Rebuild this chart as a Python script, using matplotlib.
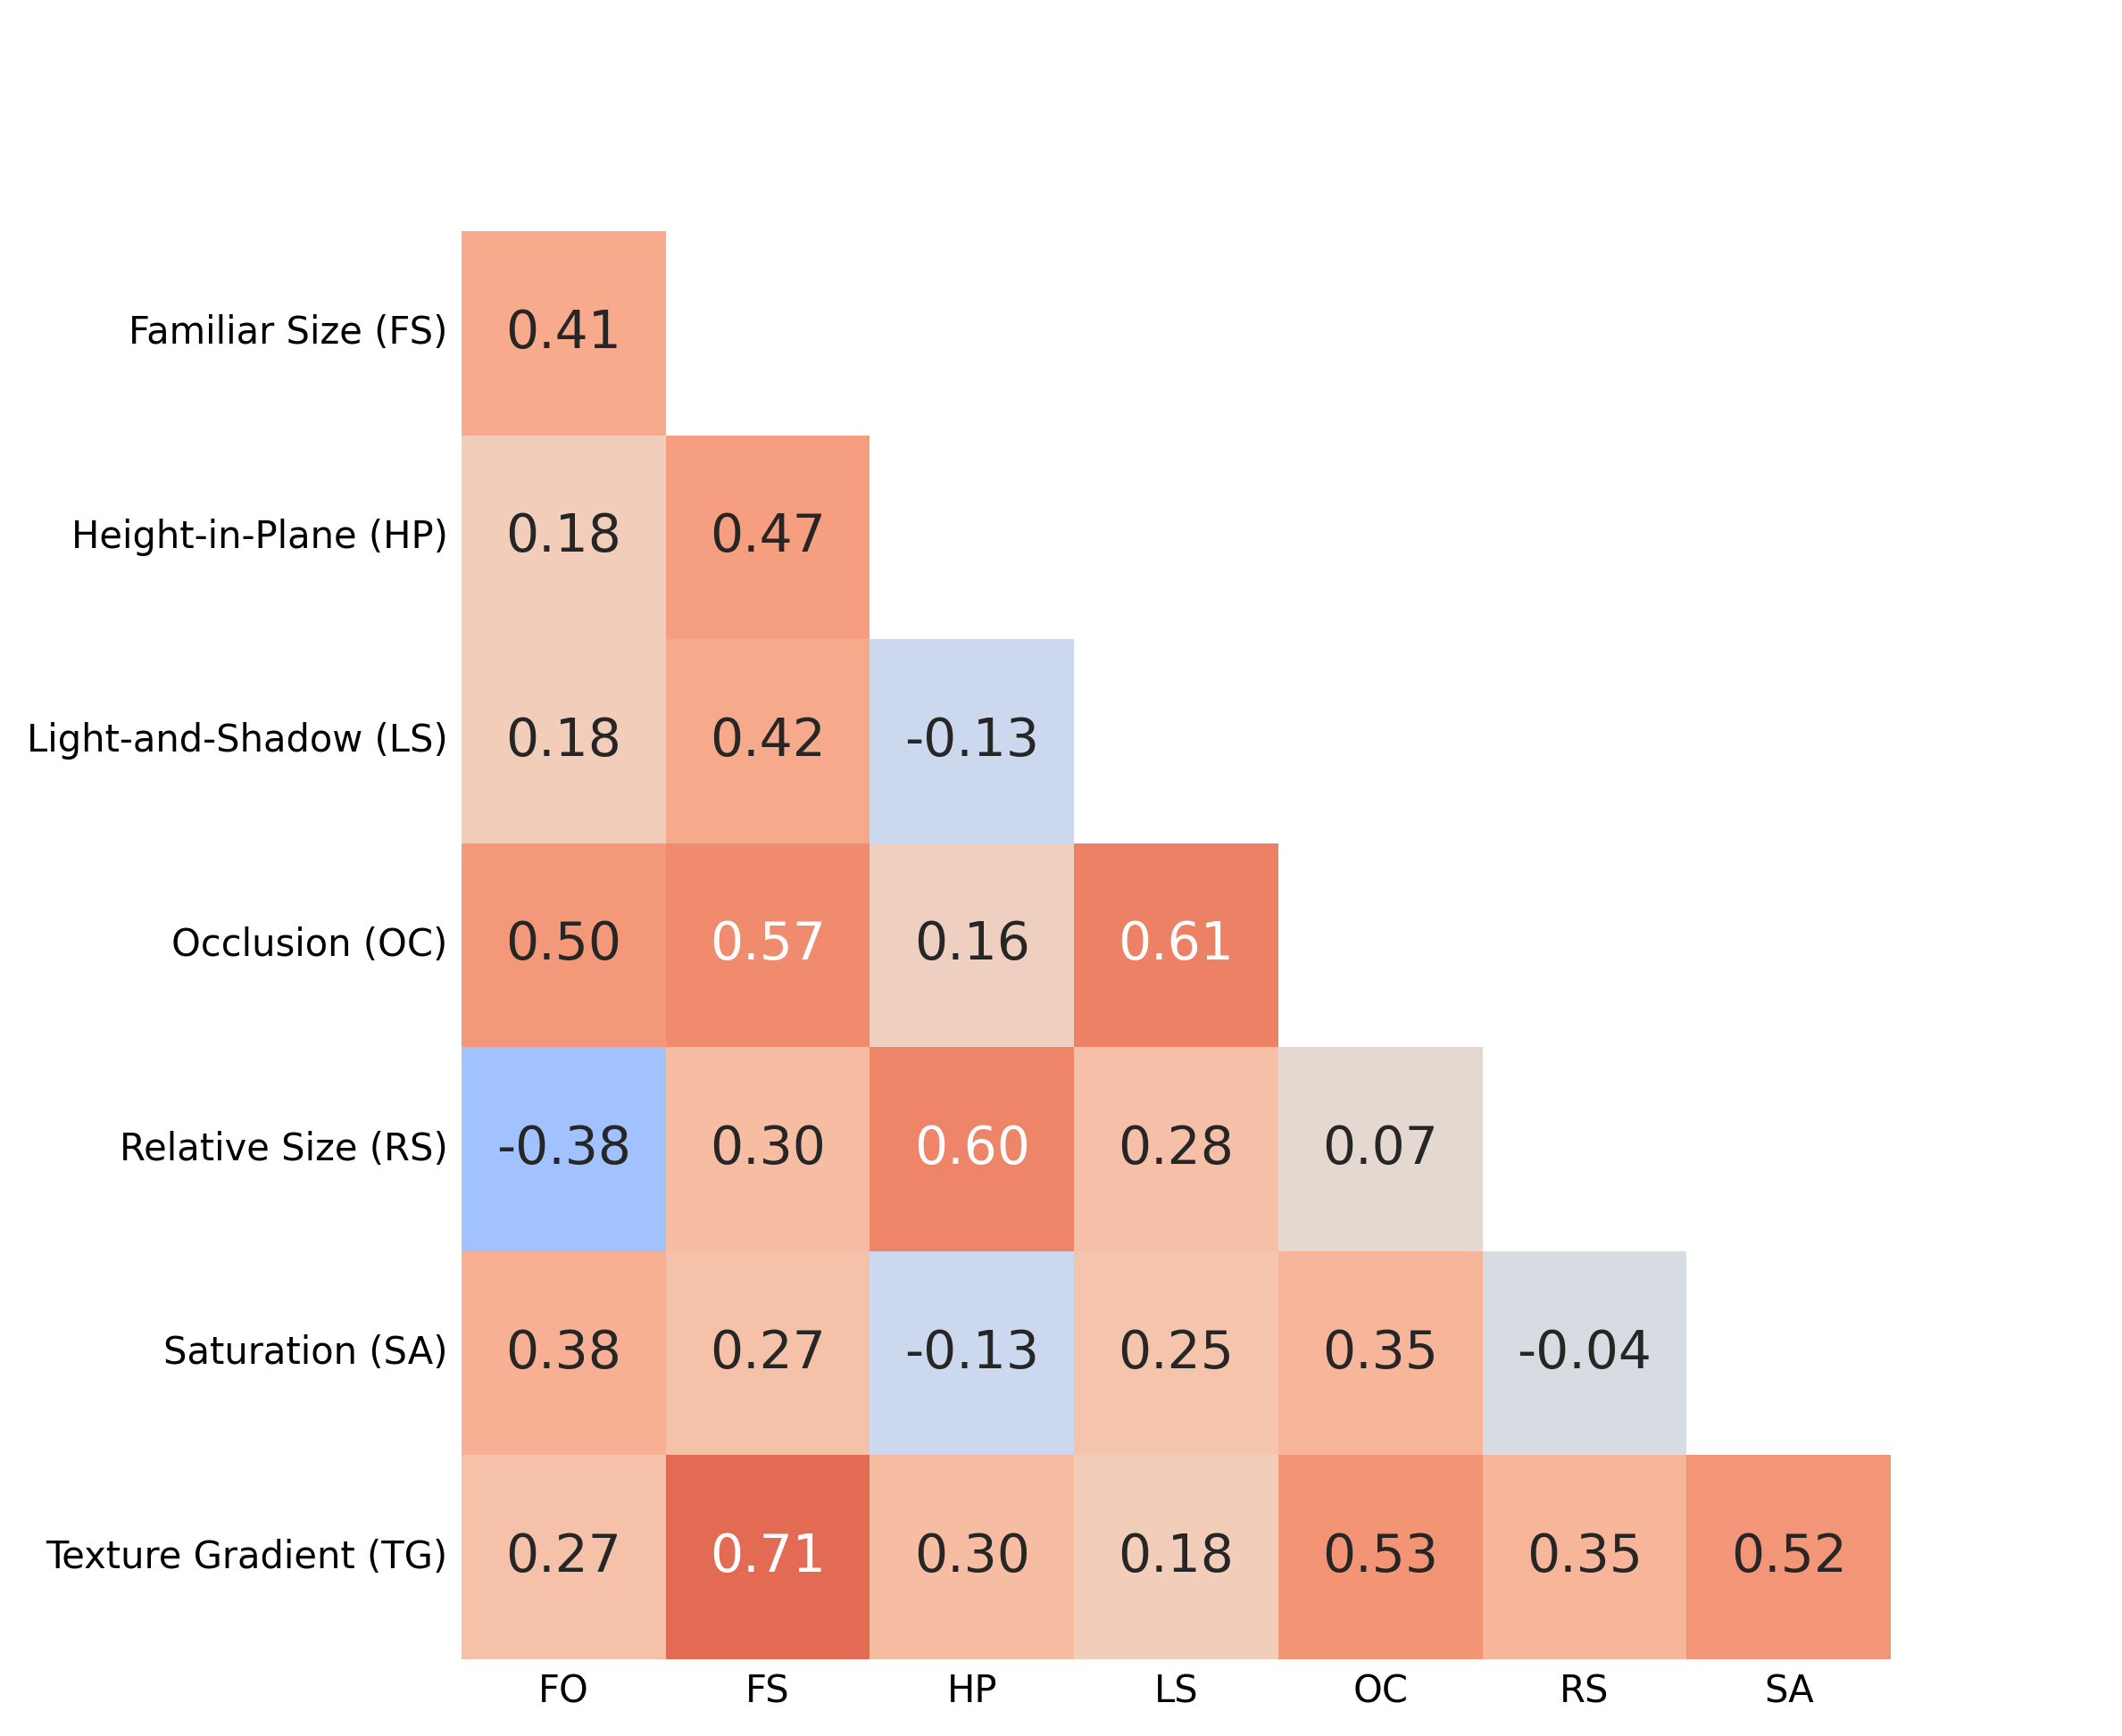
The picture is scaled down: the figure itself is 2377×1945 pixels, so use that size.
#!/usr/bin/env python3
"""Lower-triangle correlation heatmap of depth cues -> out.png"""
import numpy as np
import pandas as pd
import matplotlib
matplotlib.use("Agg")
import matplotlib.pyplot as plt
import seaborn as sns

DPI = 200

row_labels = [
    "Familiar Size (FS)",
    "Height-in-Plane (HP)",
    "Light-and-Shadow (LS)",
    "Occlusion (OC)",
    "Relative Size (RS)",
    "Saturation (SA)",
    "Texture Gradient (TG)",
]
col_labels = ["FO", "FS", "HP", "LS", "OC", "RS", "SA"]

# lower triangle, row by row
r_fs = [0.41]
r_hp = [0.18, 0.47]
r_ls = [0.18, 0.42, -0.13]
r_oc = [0.50, 0.57, 0.16, 0.61]
r_rs = [-0.38, 0.30, 0.60, 0.28, 0.07]
r_sa = [0.38, 0.27, -0.13, 0.25, 0.35, -0.04]
r_tg = [0.27, 0.71, 0.30, 0.18, 0.53, 0.35, 0.52]


def main():
    rows = [r_fs, r_hp, r_ls, r_oc, r_rs, r_sa, r_tg]
    n = len(col_labels)
    mat = np.full((len(rows), n), np.nan)
    for i, r in enumerate(rows):
        mat[i, : len(r)] = r
    df = pd.DataFrame(mat, index=row_labels, columns=col_labels)

    fig = plt.figure(figsize=(2377 / DPI, 1945 / DPI), dpi=DPI)
    ax = fig.add_axes([517 / 2377, 1 - 1859 / 1945, (2118 - 517) / 2377, (1859 - 259) / 1945])
    sns.heatmap(
        df, ax=ax, cmap="coolwarm", vmin=-1, vmax=1, center=0,
        annot=True, fmt=".2f", annot_kws={"size": 21},
        cbar=False, mask=df.isna(),
    )
    # hide tick marks but keep their spacing
    ax.tick_params(left=False, bottom=False, labelsize=15, pad=2)
    ax.set_yticklabels(ax.get_yticklabels(), rotation=0)
    ax.set_xticklabels(ax.get_xticklabels(), rotation=0)
    ax.set_xlabel("")
    ax.set_ylabel("")
    fig.savefig("out.png", dpi=DPI)
    plt.close(fig)
    print("Wrote out.png")


if __name__ == "__main__":
    main()
